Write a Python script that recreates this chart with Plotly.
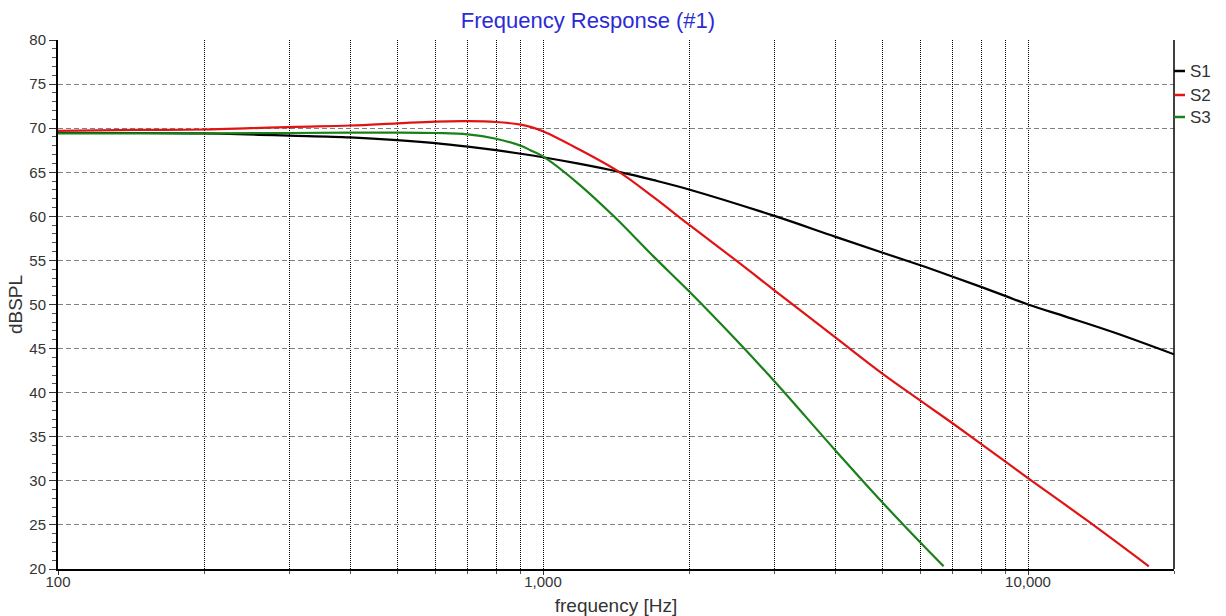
import plotly.graph_objects as go

series_names = ["S1", "S2", "S3"]
series_colors = ["#000000", "#e01414", "#1a801a"]

freq_s1 = [100, 150, 200, 260, 300, 400, 500, 600, 700, 800, 900, 1000, 1177, 1434, 1693,
           2000, 3000, 4000, 5000, 6000, 7000, 8000, 9000, 10000, 12000, 15000, 20000]
spl_s1 = [69.45, 69.45, 69.4, 69.25, 69.15, 68.95, 68.65, 68.3, 67.9, 67.5, 67.1, 66.7, 66.0, 65.05, 64.1,
          63.05, 60.05, 57.7, 55.9, 54.45, 53.15, 52.0, 50.95, 50.0, 48.6, 46.85, 44.35]

freq_s2 = [100, 145, 200, 250, 310, 400, 500, 600, 700, 800, 900, 942, 1000, 1177, 1434, 1693,
           2000, 2500, 3000, 4000, 5000, 6000, 7000, 8000, 9000, 10000, 13280, 17750]
spl_s2 = [69.7, 69.8, 69.85, 70.0, 70.15, 70.3, 70.55, 70.75, 70.8, 70.7, 70.4, 70.15, 69.65, 67.7, 65.05, 62.15,
          59.05, 55.0, 51.6, 46.3, 42.2, 39.1, 36.5, 34.2, 32.15, 30.3, 25.45, 20.3]

freq_s3 = [100, 200, 300, 400, 500, 600, 700, 800, 900, 942, 1000, 1177, 1400, 1693,
           2000, 2500, 3000, 4000, 5000, 6000, 6700]
spl_s3 = [69.4, 69.4, 69.45, 69.5, 69.5, 69.45, 69.3, 68.8, 68.0, 67.5, 66.8, 63.8, 60.0, 55.4,
          51.5, 46.0, 41.3, 33.5, 27.6, 23.0, 20.3]

series_freq = [freq_s1, freq_s2, freq_s3]
series_spl = [spl_s1, spl_s2, spl_s3]

FONT = "Liberation Sans, Arial, sans-serif"
W, H = 1226, 616
ML, MR, MT, MB = 58, 52, 40, 47

fig = go.Figure()
for name, color, fx, fy in zip(series_names, series_colors, series_freq, series_spl):
    fig.add_trace(go.Scatter(x=fx, y=fy, name=name, mode="lines",
                             line=dict(color=color, width=2.2, shape="spline", smoothing=1.0)))

fig.update_layout(
    width=W, height=H, autosize=False,
    margin=dict(l=ML, r=MR, t=MT, b=MB, pad=0),
    paper_bgcolor="white", plot_bgcolor="white",
    showlegend=False,
    font=dict(family=FONT, size=15, color="#333333"),
    title=dict(text="Frequency Response (#1)", x=588 / W, xref="container", xanchor="center",
               y=1 - 20 / H, yref="container", yanchor="middle",
               font=dict(family=FONT, size=22, color="#2b2bd6")),
    xaxis=dict(
        type="log", range=[2, 4.30103], dtick=1, tickformat=",", automargin=False,
        showline=True, linecolor="#000000", linewidth=2,
        ticks="outside", ticklen=4, tickcolor="#333333", ticklabelstandoff=-6,
        showgrid=True, gridcolor="#000000", gridwidth=1.2, griddash="1px,1px",
        minor=dict(dtick="D1", showgrid=True, gridcolor="#000000", gridwidth=1.2, griddash="1px,1px",
                   ticks="outside", ticklen=3, tickcolor="#555555"),
        zeroline=False,
        title=dict(text="frequency [Hz]", font=dict(family=FONT, size=19, color="#333333"), standoff=17),
        tickfont=dict(family=FONT, size=15, color="#333333"),
    ),
    yaxis=dict(
        range=[20, 80], dtick=5, automargin=False,
        showline=True, linecolor="#000000", linewidth=2,
        ticks="outside", ticklen=7, tickcolor="#333333",
        showgrid=True, gridcolor="#808080", gridwidth=1, griddash="5px,3px",
        minor=dict(dtick=1, ticks="outside", ticklen=4, tickcolor="#555555", showgrid=False),
        zeroline=False,
        title=dict(text="dBSPL", font=dict(family=FONT, size=19, color="#333333"), standoff=2),
        tickfont=dict(family=FONT, size=15, color="#333333"),
    ),
)

# right border of the plot area
fig.add_shape(type="line", xref="paper", yref="paper", x0=1, x1=1, y0=0, y1=1,
              line=dict(color="#000000", width=1.5))

# legend drawn at the right edge, as in the reference
plot_h = H - MT - MB
legend_y_px = [71, 95, 117]
for name, color, ypx in zip(series_names, series_colors, legend_y_px):
    yp = 1 - (ypx - MT) / plot_h
    fig.add_shape(type="line", xref="paper", yref="paper", x0=1, x1=1 + 11 / (W - ML - MR),
                  y0=yp, y1=yp, line=dict(color=color, width=2.5))
    fig.add_annotation(text=name, xref="paper", yref="paper", x=1 + 14 / (W - ML - MR), y=yp,
                       xanchor="left", yanchor="middle", showarrow=False,
                       font=dict(family=FONT, size=17, color="#333333"))

fig.write_html("out.html")
